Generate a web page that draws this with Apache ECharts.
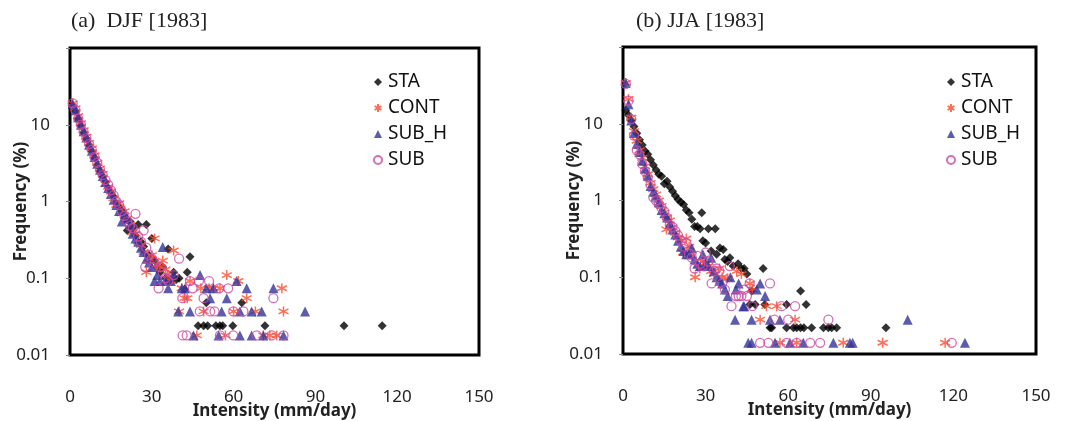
<!DOCTYPE html>
<html><head><meta charset="utf-8">
<script src="https://cdn.jsdelivr.net/npm/echarts@6/dist/echarts.min.js"></script>
<style>html,body{margin:0;padding:0;background:#fff}#c{width:1065px;height:421px}</style>
</head><body><div id="c"></div>
<script>
const seriesNames = ['STA', 'CONT', 'SUB_H', 'SUB'];
const xTicks = [0, 30, 60, 90, 120, 150];
const yTicks = [0.01, 0.1, 1, 10];
const panelTitles = ['(a)  DJF [1983]', '(b) JJA [1983]'];

const djfSTA = [[1,17],[2,15],[3,12],[4,9.8],[5,8],[6,6.6],[7,5.4],[8,4.5],[9,3.7],[10,3.0],[11,2.5],[12,2.1],[13,1.8],[14,1.5],[15,1.3],[16,1.15],[17,0.95],[18,0.85],[19,0.75],[20,0.6],[21,0.42],[22,0.55],[23,0.45],[24,0.36],[25,0.5],[26,0.3],[27,0.26],[28,0.5],[29,0.2],[30,0.33],[31,0.17],[32,0.14],[33,0.12],[34,0.14],[35,0.1],[36,0.24],[37,0.096],[38,0.12],[39,0.096],[40,0.1],[42,0.072],[43,0.12],[44,0.19],[47,0.024],[49,0.024],[50,0.048],[50.5,0.024],[53.5,0.024],[55,0.024],[56,0.024],[59.7,0.024],[63,0.048],[71.5,0.024],[100.5,0.024],[114.5,0.024]];
const djfCONT = [[1,19],[2,16.5],[3,13],[4,10.5],[5,8.5],[6,7],[7,5.8],[8,4.9],[9,4.0],[10,3.2],[11,2.7],[12,2.3],[13,1.7],[14,1.55],[15,1.35],[16,1.1],[17,0.9],[18,0.95],[19,0.7],[20,0.75],[21,0.6],[22,0.5],[23,0.4],[24,0.38],[25,0.3],[26,0.27],[27,0.22],[28,0.12],[29,0.18],[30,0.2],[31,0.33],[32,0.15],[33,0.14],[34,0.17],[35,0.13],[36,0.11],[37,0.092],[38,0.23],[40,0.037],[41,0.074],[42,0.055],[43,0.055],[44,0.092],[46.5,0.018],[48,0.074],[49,0.037],[51,0.074],[52.6,0.074],[55,0.074],[57,0.018],[57.5,0.11],[60,0.037],[61.7,0.092],[64.8,0.055],[68,0.037],[70.9,0.018],[73.3,0.018],[75.8,0.018],[77.7,0.074],[78.3,0.037]];
const djfSUBH = [[1,18.5],[2,15.5],[3,12.5],[4,10],[5,8.2],[6,6.8],[7,5.5],[8,4.6],[9,3.8],[10,3.1],[11,2.6],[12,2.15],[13,1.8],[14,1.5],[15,1.25],[16,1.05],[17,0.9],[18,0.75],[19,0.55],[20,0.7],[21,0.6],[22,0.5],[23,0.38],[24,0.33],[25,0.3],[26,0.25],[27,0.22],[28,0.18],[29,0.16],[30,0.14],[31,0.092],[32,0.11],[33,0.092],[34,0.255],[35,0.092],[36,0.074],[37,0.092],[38,0.11],[39.7,0.037],[41,0.074],[42.2,0.074],[44,0.037],[45.3,0.018],[47.7,0.11],[50,0.074],[51.4,0.055],[52.6,0.074],[54.5,0.018],[55.6,0.037],[57.5,0.055],[61.1,0.092],[62.3,0.037],[62.3,0.018],[64.8,0.074],[66.6,0.037],[66.6,0.018],[70.3,0.037],[70.9,0.018],[74.6,0.074],[78.3,0.018],[86.2,0.037]];
const djfSUB = [[1,19],[2,15.5],[3,12],[4,10],[5,8.1],[6,6.7],[7,5.6],[8,4.7],[9,3.8],[10,3.2],[11,2.6],[12,2.2],[13,1.9],[14,1.65],[15,1.4],[16,1.2],[17,1.0],[18,0.9],[19,0.75],[20,0.65],[21,0.55],[22,0.48],[23,0.45],[24,0.69],[25,0.35],[26,0.3],[27,0.42],[27.6,0.14],[28,0.25],[29,0.2],[30,0.18],[31,0.16],[32.5,0.074],[33,0.14],[34,0.12],[35,0.1],[36,0.092],[38,0.11],[40,0.18],[41.2,0.055],[41.3,0.018],[42.8,0.018],[44,0.092],[45,0.074],[47.3,0.092],[47.6,0.037],[49,0.055],[51,0.092],[51.4,0.037],[53,0.037],[54.7,0.074],[55,0.018],[58,0.074],[59.9,0.037],[59.9,0.018],[63.6,0.037],[68.5,0.018],[74,0.018],[74.6,0.055],[78.3,0.018]];

const jjaSTA = [[1,15],[2,13],[3,11],[4,9.2],[5,7.5],[6,6.2],[7,5.3],[8,4.4],[9,4.0],[10,3.4],[11,2.9],[12,2.5],[13,2.2],[14,2.07],[15,1.65],[16,1.78],[17,1.5],[18,1.32],[19,1.15],[20,1.03],[21,0.95],[22,0.89],[23,0.75],[24,0.69],[25,0.57],[26,0.46],[27,0.46],[28,0.43],[28.6,0.69],[29,0.3],[30,0.28],[31,0.43],[32,0.22],[33.5,0.43],[34,0.2],[35.2,0.24],[36.4,0.23],[37,0.17],[38,0.16],[38.8,0.18],[40,0.14],[41.8,0.15],[43,0.13],[44,0.13],[45,0.11],[46.1,0.044],[46.7,0.066],[48,0.044],[50.9,0.13],[51.5,0.044],[53.4,0.022],[54,0.022],[59.4,0.044],[59.4,0.022],[61.9,0.022],[63.1,0.022],[64.5,0.066],[64.5,0.022],[65.7,0.022],[66.5,0.044],[68.5,0.022],[72.8,0.022],[74.6,0.022],[75.8,0.022],[77.6,0.022],[95.5,0.022]];
const jjaCONT = [[1,34],[2,21],[3,12],[4,8],[5,6],[6,4.5],[7,3.6],[8,2.8],[9,2.2],[10,1.7],[11,1.4],[12,1.2],[13,1.0],[14,0.85],[15,0.7],[15.8,0.42],[16,0.6],[17,0.55],[18,0.45],[19,0.38],[20,0.33],[21,0.3],[21.9,0.21],[23,0.32],[24,0.25],[25,0.19],[26.2,0.1],[27.9,0.13],[29,0.16],[30,0.15],[31,0.14],[32,0.12],[33,0.11],[35,0.13],[36,0.1],[38,0.097],[41.3,0.12],[43,0.11],[46.1,0.083],[47,0.069],[49.8,0.028],[52.1,0.042],[55.8,0.042],[57,0.014],[62.5,0.028],[63.1,0.014],[80,0.014],[94.3,0.014],[117,0.014]];
const jjaSUBH = [[1,34],[2,18],[3,11],[4,7.6],[5,5.5],[6,4.3],[7,3.3],[8,2.6],[9,2.1],[10,1.55],[11,1.3],[12,1.15],[13,0.95],[14,0.75],[15,0.68],[16,0.6],[17,0.5],[18,0.42],[19,0.36],[20,0.3],[21,0.25],[22,0.22],[23,0.2],[24,0.2],[25,0.24],[26,0.17],[27,0.15],[28,0.14],[29,0.2],[30,0.15],[31,0.14],[32,0.18],[33,0.12],[34,0.1],[35,0.09],[36,0.083],[37,0.069],[38,0.057],[39,0.1],[40.7,0.028],[41,0.069],[42,0.083],[43.7,0.042],[44,0.042],[45.5,0.014],[46.7,0.028],[46.7,0.014],[48.6,0.069],[49.8,0.083],[51.6,0.057],[53.4,0.028],[55.2,0.014],[57,0.028],[60.6,0.014],[65.5,0.014],[76.4,0.014],[82.4,0.014],[83.4,0.014],[103.4,0.028],[124.2,0.014]];
const jjaSUB = [[1,33],[2,20],[3,11.5],[4,7],[5,4.5],[6,4.0],[7,3.0],[8,2.4],[9,2.0],[10,1.6],[11,1.1],[12,1.0],[13,0.9],[14,0.8],[15,0.72],[16,0.6],[17,0.48],[18,0.45],[19,0.4],[20,0.35],[21,0.3],[22,0.25],[23,0.28],[24,0.2],[25,0.18],[26,0.13],[27,0.19],[28,0.15],[29,0.14],[30,0.21],[31,0.16],[32.2,0.083],[33,0.12],[34,0.13],[35,0.12],[36,0.083],[37,0.069],[38.8,0.14],[39.4,0.042],[41,0.057],[42,0.057],[43,0.057],[44,0.069],[45,0.057],[46,0.083],[47,0.042],[49.8,0.014],[52.8,0.014],[53.4,0.083],[55,0.028],[57.6,0.042],[59.4,0.014],[60,0.028],[62.5,0.042],[63.1,0.014],[68,0.014],[71.6,0.014],[74.6,0.028],[119.4,0.014]];

const panels = [[djfSTA, djfCONT, djfSUBH, djfSUB], [jjaSTA, jjaCONT, jjaSUBH, jjaSUB]];

const asterisk = 'path://M5,0L5,10M0.7,2.5L9.3,7.5M0.7,7.5L9.3,2.5';
const styles = [
  {symbol: 'diamond', symbolSize: 9, itemStyle: {color: '#000'}},
  {symbol: asterisk, symbolSize: 10, itemStyle: {color: 'rgba(0,0,0,0)', borderColor: '#ff4a2a', borderWidth: 1.5}},
  {symbol: 'triangle', symbolSize: 10, itemStyle: {color: '#33339a'}},
  {symbol: 'circle', symbolSize: 9, itemStyle: {color: 'rgba(0,0,0,0)', borderColor: '#cc4aa5', borderWidth: 1.3}}
];

const grids = [
  {left: 70, top: 48, width: 409, height: 307},
  {left: 623, top: 47, width: 413, height: 307}
];
const font = 'Noto Sans';

const option = {
  animation: false,
  backgroundColor: '#fff',
  grid: grids.map(g => Object.assign({show: true, borderColor: '#000', borderWidth: 3, backgroundColor: '#fff', containLabel: false, outerBoundsMode: 'none'}, g)),
  title: [
    {text: panelTitles[0], left: 66, top: 5, textStyle: {fontFamily: 'Liberation Serif', fontWeight: 'normal', fontSize: 22, color: '#222'}},
    {text: panelTitles[1], left: 631, top: 5, textStyle: {fontFamily: 'Liberation Serif', fontWeight: 'normal', fontSize: 22, color: '#222'}}
  ],
  legend: [0, 1].map(i => ({
    orient: 'vertical', left: i === 0 ? 368 : 941, top: 67,
    itemWidth: 8, itemHeight: 8, itemGap: 6,
    data: seriesNames,
    textStyle: {fontFamily: font, fontSize: 19, color: '#111', lineHeight: 20, padding: [0, 0, 0, 1]}
  })),
  xAxis: [0, 1].map(i => ({
    type: 'value', gridIndex: i, min: xTicks[0], max: xTicks[xTicks.length - 1], interval: 30,
    name: 'Intensity (mm/day)', nameLocation: 'middle', nameGap: 48, nameMoveOverlap: false,
    nameTextStyle: {fontFamily: font, fontSize: 17, fontWeight: 'bold', color: '#222'},
    axisLine: {show: false}, axisTick: {show: false}, splitLine: {show: false},
    axisLabel: {margin: 34, fontFamily: font, fontSize: 17, color: '#222'}
  })),
  yAxis: [0, 1].map(i => ({
    type: 'log', logBase: 10, gridIndex: i, min: 0.01, max: 100,
    name: 'Frequency (%)', nameLocation: 'middle', nameGap: 40, nameMoveOverlap: false,
    nameTextStyle: {fontFamily: font, fontSize: 17, fontWeight: 'bold', color: '#222'},
    axisLine: {show: false},
    axisTick: {show: true, length: 4, lineStyle: {color: '#888'}},
    splitLine: {show: false},
    axisLabel: {margin: 20, fontFamily: font, fontSize: 17, color: '#222',
      formatter: v => (yTicks.indexOf(v) >= 0 ? String(v) : '')}
  })),
  series: []
};

panels.forEach((sets, pi) => {
  sets.forEach((data, si) => {
    option.series.push(Object.assign({
      type: 'scatter', name: seriesNames[si], xAxisIndex: pi, yAxisIndex: pi, data: data, z: 2 + si
    }, styles[si]));
  });
});

echarts.init(document.getElementById('c'), null, {renderer: 'canvas'}).setOption(option);
</script></body></html>
